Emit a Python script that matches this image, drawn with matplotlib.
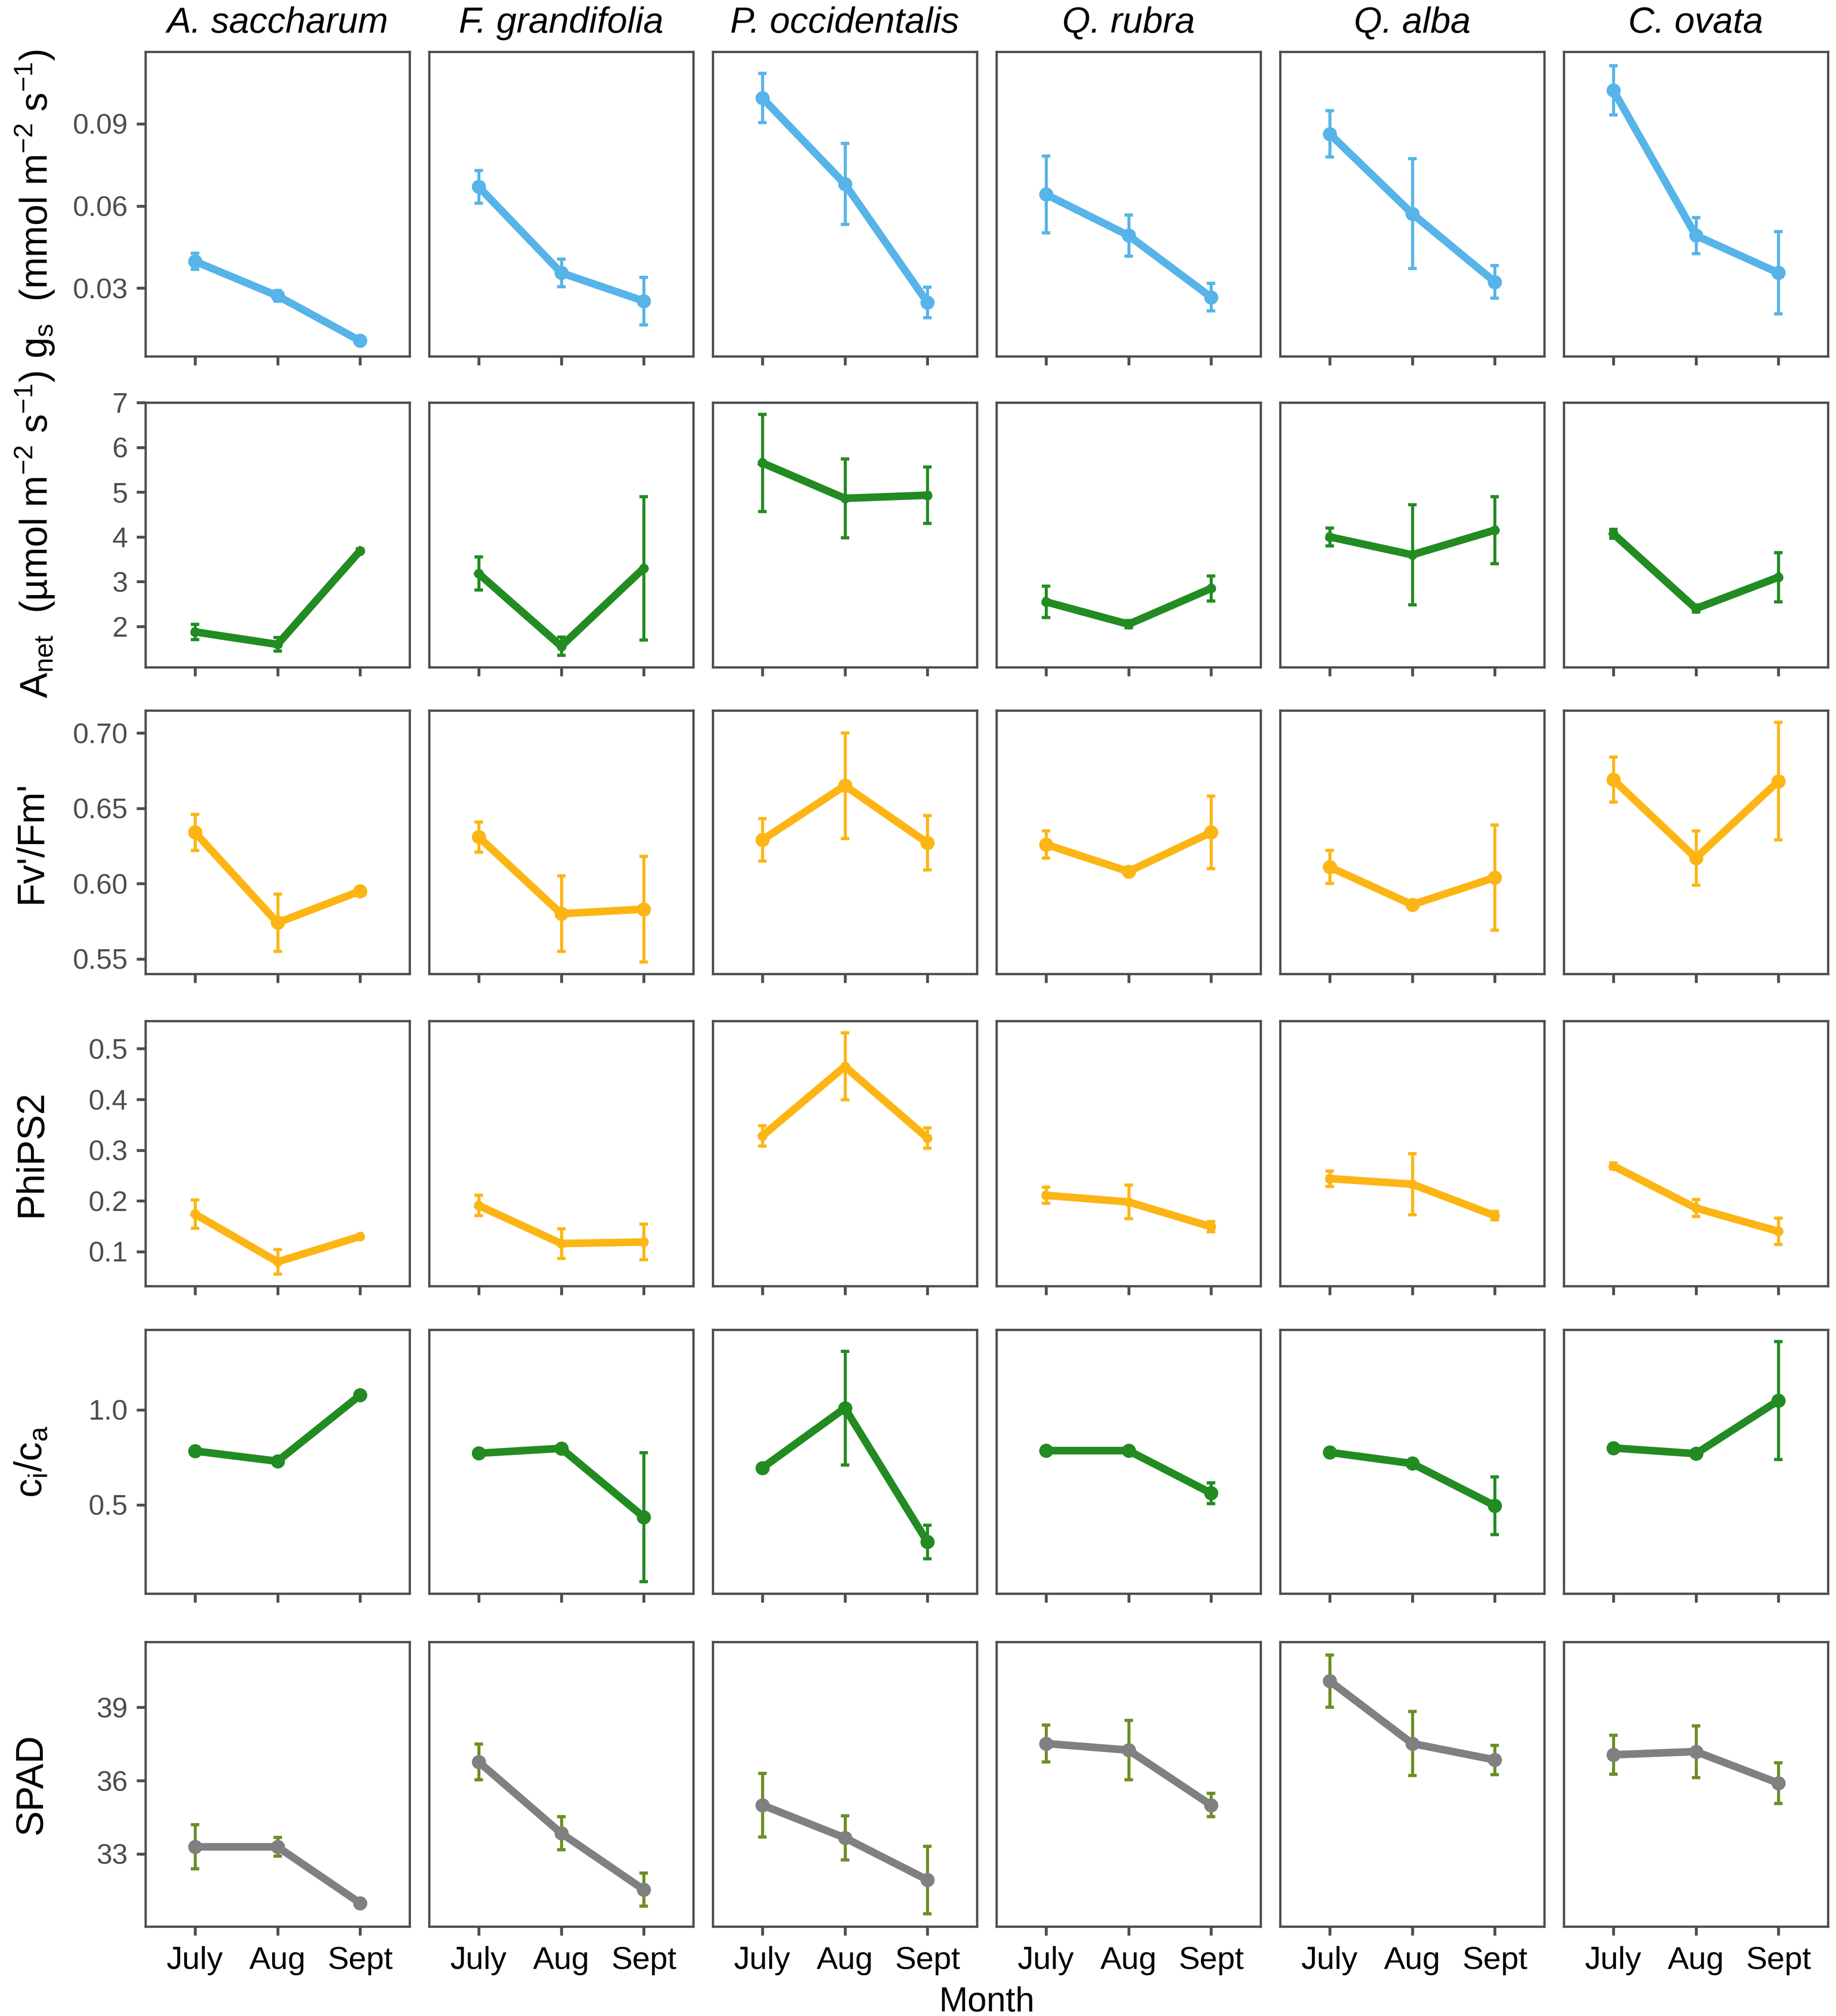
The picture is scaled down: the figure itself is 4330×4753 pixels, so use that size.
import matplotlib
matplotlib.use('Agg')
import matplotlib.pyplot as plt
import numpy as np

plt.rcParams['font.family'] = ['Liberation Sans', 'DejaVu Sans']
plt.rcParams['mathtext.fontset'] = 'custom'
plt.rcParams['mathtext.rm'] = 'Liberation Sans'
plt.rcParams['mathtext.it'] = 'Liberation Sans:italic'
plt.rcParams['mathtext.bf'] = 'Liberation Sans:bold'

species = ['A. saccharum', 'F. grandifolia', 'P. occidentalis',
           'Q. rubra', 'Q. alba', 'C. ovata']
months = ['July', 'Aug', 'Sept']

# stomatal conductance (per species: July, Aug, Sept)
gs_mean = [[0.0398, 0.0272, 0.0108],
           [0.0670, 0.0356, 0.0253],
           [0.0994, 0.0680, 0.0248],
           [0.0642, 0.0492, 0.0267],
           [0.0863, 0.0572, 0.0323],
           [0.1022, 0.0492, 0.0356]]
gs_se = [[0.0030, 0.0020, 0.0006],
         [0.0060, 0.0050, 0.0087],
         [0.0090, 0.0148, 0.0056],
         [0.0140, 0.0075, 0.0050],
         [0.0084, 0.0200, 0.0060],
         [0.0090, 0.0066, 0.0150]]

# net assimilation
anet_mean = [[1.88, 1.60, 3.69],
             [3.18, 1.56, 3.30],
             [5.65, 4.86, 4.93],
             [2.55, 2.05, 2.85],
             [4.00, 3.60, 4.15],
             [4.07, 2.40, 3.10]]
anet_se = [[0.17, 0.15, 0.04],
           [0.37, 0.20, 1.60],
           [1.08, 0.88, 0.63],
           [0.35, 0.08, 0.28],
           [0.20, 1.12, 0.75],
           [0.10, 0.08, 0.55]]

# Fv'/Fm'
fvfm_mean = [[0.634, 0.574, 0.595],
             [0.631, 0.580, 0.583],
             [0.629, 0.665, 0.627],
             [0.626, 0.608, 0.634],
             [0.611, 0.586, 0.604],
             [0.669, 0.617, 0.668]]
fvfm_se = [[0.012, 0.019, 0.002],
           [0.010, 0.025, 0.035],
           [0.014, 0.035, 0.018],
           [0.009, 0.002, 0.024],
           [0.011, 0.002, 0.035],
           [0.015, 0.018, 0.039]]

# PhiPS2
phips2_mean = [[0.174, 0.080, 0.130],
               [0.191, 0.116, 0.119],
               [0.328, 0.465, 0.324],
               [0.211, 0.198, 0.149],
               [0.244, 0.233, 0.171],
               [0.269, 0.186, 0.140]]
phips2_se = [[0.028, 0.024, 0.002],
             [0.020, 0.029, 0.035],
             [0.020, 0.066, 0.020],
             [0.016, 0.033, 0.010],
             [0.015, 0.060, 0.008],
             [0.006, 0.017, 0.026]]

# ci/ca
cica_mean = [[0.783, 0.729, 1.077],
             [0.771, 0.797, 0.435],
             [0.694, 1.009, 0.304],
             [0.785, 0.785, 0.561],
             [0.776, 0.717, 0.495],
             [0.799, 0.769, 1.049]]
cica_se = [[0.010, 0.010, 0.008],
           [0.010, 0.015, 0.340],
           [0.010, 0.300, 0.088],
           [0.010, 0.010, 0.055],
           [0.010, 0.010, 0.152],
           [0.010, 0.010, 0.310]]

# SPAD
spad_mean = [[33.29, 33.29, 30.99],
             [36.77, 33.85, 31.54],
             [35.00, 33.66, 31.94],
             [37.52, 37.25, 35.00],
             [40.08, 37.52, 36.85],
             [37.06, 37.19, 35.90]]
spad_se = [[0.90, 0.38, 0.08],
           [0.73, 0.68, 0.68],
           [1.30, 0.90, 1.38],
           [0.75, 1.22, 0.48],
           [1.07, 1.31, 0.60],
           [0.80, 1.06, 0.84]]

blue = '#56B4E9'
green = '#228B22'
yellow = '#FCB514'
grey = '#808080'
olive = '#6B8E23'

rows = [
    (gs_mean, gs_se, blue, blue, [0.03, 0.06, 0.09], '{:.2f}',
     r'g$_{\rm s}$  (mmol m$^{-2}$ s$^{-1}$)', 8.0),
    (anet_mean, anet_se, green, green, [2, 3, 4, 5, 6, 7], '{:.0f}',
     r'A$_{\rm net}$  (µmol m$^{-2}$ s$^{-1}$)', 5.5),
    (fvfm_mean, fvfm_se, yellow, yellow, [0.55, 0.60, 0.65, 0.70], '{:.2f}',
     "Fv'/Fm'", 8.0),
    (phips2_mean, phips2_se, yellow, yellow, [0.1, 0.2, 0.3, 0.4, 0.5], '{:.1f}',
     'PhiPS2', 5.5),
    (cica_mean, cica_se, green, green, [0.5, 1.0], '{:.1f}',
     r'c$_{\rm i}$/c$_{\rm a}$', 8.0),
    (spad_mean, spad_se, grey, olive, [33, 36, 39], '{:.0f}',
     'SPAD', 8.0),
]

W, H = 4330, 4753
col_left = [343 + i * 669 for i in range(6)]
col_w = 623
row_tb = [(122, 840), (949, 1573), (1675, 2296), (2407, 3032),
          (3135, 3757), (3871, 4542)]

fig = plt.figure(figsize=(W / 300, H / 300), dpi=300)
edge = '#4D4D4D'
x = np.arange(1, 4)

for r, (mean, se, col, ecol, ticks, fmt, label, ms) in enumerate(rows):
    mean = np.array(mean)
    se = np.array(se)
    lo = (mean - se).min()
    hi = (mean + se).max()
    pad = (hi - lo) * 0.05
    top, bot = row_tb[r]
    for c in range(6):
        ax = fig.add_axes([col_left[c] / W, 1 - bot / H, col_w / W, (bot - top) / H])
        ax.errorbar(x, mean[c], yerr=se[c], fmt='none', ecolor=ecol,
                    elinewidth=1.7, capsize=2.5, capthick=1.8, zorder=2)
        ax.plot(x, mean[c], color=col, lw=4.3, marker='o', ms=ms,
                markeredgewidth=0, zorder=3)
        ax.set_xlim(0.4, 3.6)
        ax.set_ylim(lo - pad, hi + pad)
        ax.set_xticks(x)
        for s in ax.spines.values():
            s.set_color(edge)
            s.set_linewidth(1.3)
        ax.tick_params(direction='out', length=5, width=1.6, color=edge, pad=5)
        if r == 5:
            ax.set_xticklabels(months, fontsize=18, color='black')
            ax.tick_params(axis='x', pad=6)
        else:
            ax.set_xticklabels([])
        if c == 0:
            ax.set_yticks(ticks)
            ax.set_yticklabels([fmt.format(t) for t in ticks], fontsize=16, color=edge)
        else:
            ax.set_yticks([])
        if r == 0:
            fig.text((col_left[c] + col_w / 2) / W, 1 - 77 / H, species[c],
                     ha='center', va='baseline', fontsize=20.5, style='italic')
    fig.text(32 / W, 1 - (top + bot) / 2 / H, label, rotation=90,
             ha='left', va='center', fontsize=21.5)

fig.text(2327 / W, 1 - 4742 / H, 'Month', ha='center', va='baseline', fontsize=19.5)

fig.savefig('out.png', dpi=300, facecolor='white')
